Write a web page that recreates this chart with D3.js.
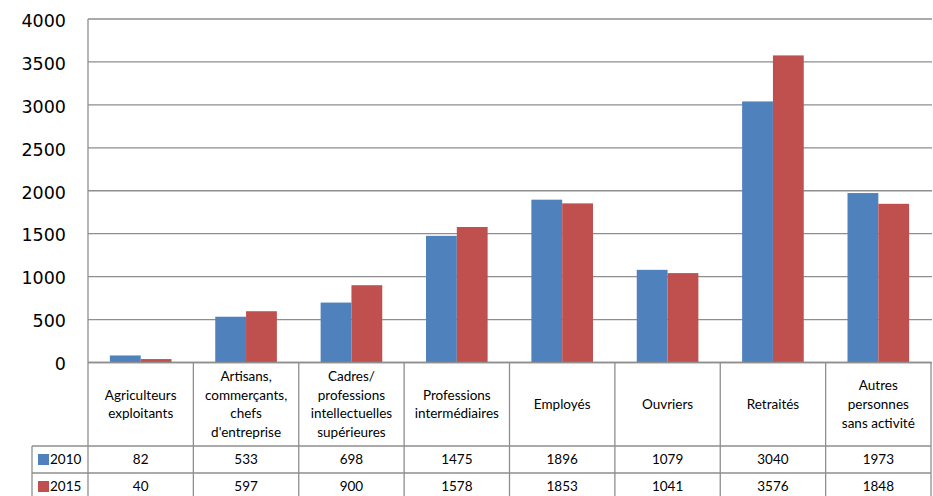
<!DOCTYPE html>
<html><head><meta charset="utf-8">
<script src="https://cdn.jsdelivr.net/npm/d3@7"></script>
<style>body{margin:0;background:#fff}svg{display:block}</style>
</head><body>
<svg id="c" width="933" height="496"></svg>
<script>
const categories = [
  ["Agriculteurs","exploitants"],
  ["Artisans,","commerçants,","chefs","d'entreprise"],
  ["Cadres/","professions","intellectuelles","supérieures"],
  ["Professions","intermédiaires"],
  ["Employés"],
  ["Ouvriers"],
  ["Retraités"],
  ["Autres","personnes","sans activité"]
];
const seriesNames = ["2010","2015"];
const values2010 = [82,533,698,1475,1896,1079,3040,1973];
const values2015 = [40,597,900,1578,1853,1041,3576,1848];
const yTicks = [0,500,1000,1500,2000,2500,3000,3500,4000];
const colors = ["#4F81BD","#C0504D"];

const svg = d3.select("#c");
const L = 88, R = 931, T = 19, B = 362.5;
const x = d3.scaleBand().domain(d3.range(categories.length)).range([L,R]).paddingInner(0).paddingOuter(0);
const y = d3.scaleLinear().domain([0,4000]).range([B,T]);
const inner = d3.scaleBand().domain([0,1]).range([0,x.bandwidth()]).paddingOuter(0.71).paddingInner(0);
const grid = "#8e8e8e";

svg.append("g").selectAll("line").data(yTicks).join("line")
  .attr("x1",L).attr("x2",R+1).attr("y1",d=>y(d)).attr("y2",d=>y(d))
  .attr("stroke",grid).attr("stroke-width",1.3);
svg.append("g").selectAll("text").data(yTicks).join("text")
  .attr("x",66).attr("y",d=>y(d)+1.5).attr("dy","0.36em").attr("text-anchor","end")
  .attr("font-family","DejaVu Sans").attr("font-size",17.5).attr("fill","#000").text(d=>d);
svg.append("line").attr("x1",L).attr("x2",L).attr("y1",T).attr("y2",B).attr("stroke",grid).attr("stroke-width",1.3);

const series = [values2010, values2015];
series.forEach((vals,si)=>{
  svg.append("g").selectAll("rect").data(vals).join("rect")
    .attr("x",(d,i)=>x(i)+inner(si)).attr("width",inner.bandwidth())
    .attr("y",d=>y(d)).attr("height",d=>B-y(d))
    .attr("fill",colors[si]);
});

const tableTop = B, headBot = 446, row1 = 473, row2 = 500, legL = 32;
const tg = svg.append("g").attr("stroke",grid).attr("stroke-width",1.3);
tg.append("line").attr("x1",L).attr("x2",R).attr("y1",tableTop).attr("y2",tableTop);
[headBot,row1,row2].forEach(yy=>tg.append("line").attr("x1",legL).attr("x2",R).attr("y1",yy).attr("y2",yy));
d3.range(categories.length+1).forEach(i=>{
  const xx = i<categories.length ? x(i) : R;
  tg.append("line").attr("x1",xx).attr("x2",xx).attr("y1",tableTop).attr("y2",row2);
});
tg.append("line").attr("x1",legL).attr("x2",legL).attr("y1",headBot).attr("y2",row2);

const font = "Lato, 'Open Sans', sans-serif";
const fs = 13.5;
categories.forEach((lines,i)=>{
  const cx = x(i)+x.bandwidth()/2;
  const lh = 18.6;
  const cy = (tableTop+headBot)/2;
  const t = svg.append("text").attr("text-anchor","middle").attr("font-family",font).attr("font-size",fs).attr("fill","#000");
  lines.forEach((ln,k)=>{
    t.append("tspan").attr("x",cx).attr("y",cy+(k-(lines.length-1)/2)*lh).attr("dy","0.35em").text(ln);
  });
});
const rowsY = [(headBot+row1)/2,(row1+row2)/2];
series.forEach((vals,si)=>{
  svg.append("g").selectAll("text").data(vals).join("text")
    .attr("x",(d,i)=>x(i)+x.bandwidth()/2).attr("y",rowsY[si]).attr("dy","0.35em")
    .attr("text-anchor","middle").attr("font-family",font).attr("font-size",fs).text(d=>d);
  svg.append("rect").attr("x",38).attr("y",rowsY[si]-5.5).attr("width",11).attr("height",11).attr("fill",colors[si]);
  svg.append("text").attr("x",50).attr("y",rowsY[si]).attr("dy","0.35em")
    .attr("font-family",font).attr("font-size",fs).text(seriesNames[si]);
});
</script>
</body></html>
